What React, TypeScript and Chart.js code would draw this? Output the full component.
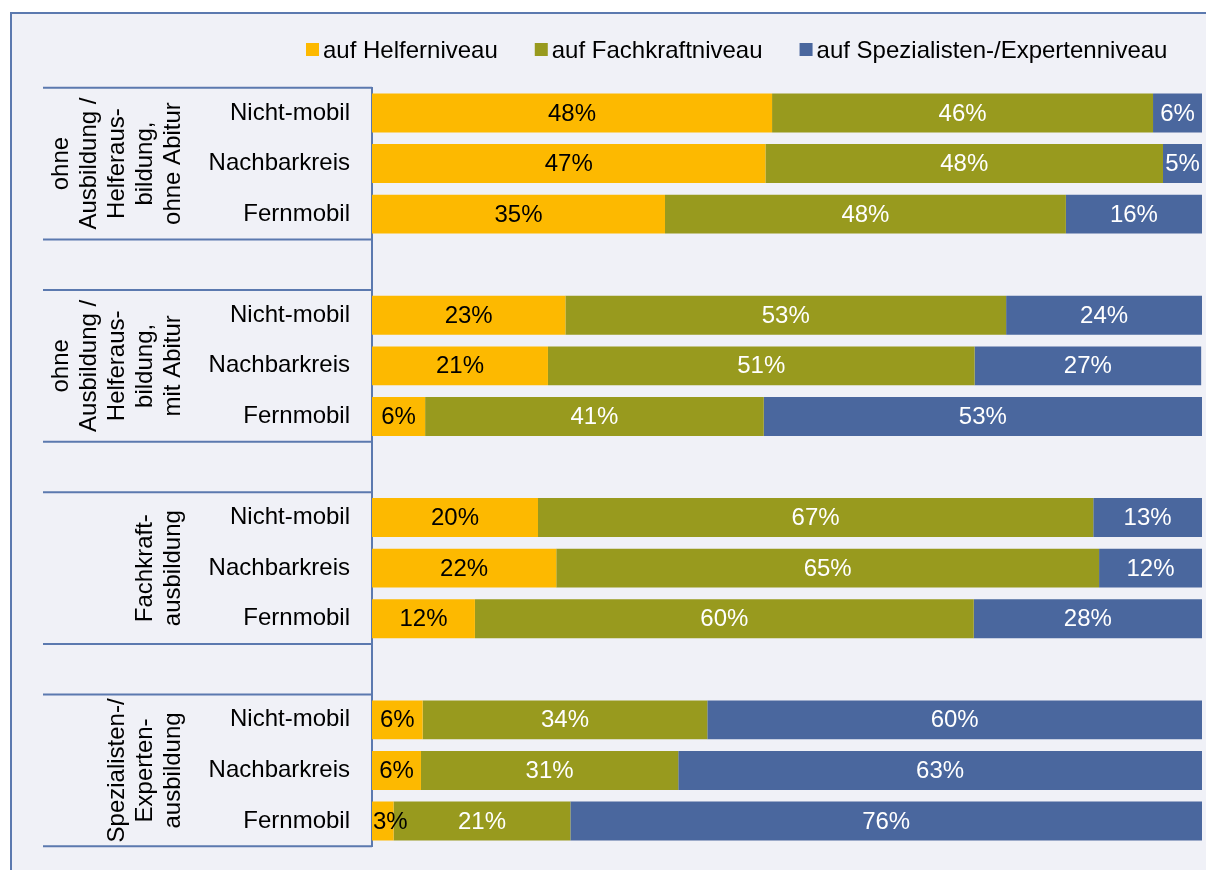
import React, { useEffect, useRef } from "react";
import { Chart, registerables } from "chart.js";

Chart.register(...registerables);

// ---- Data ----
const rowLabels = [
  "Nicht-mobil", "Nachbarkreis", "Fernmobil", "",
  "Nicht-mobil", "Nachbarkreis", "Fernmobil", "",
  "Nicht-mobil", "Nachbarkreis", "Fernmobil", "",
  "Nicht-mobil", "Nachbarkreis", "Fernmobil",
];

const seriesNames = [
  "auf Helferniveau",
  "auf Fachkraftniveau",
  "auf Spezialisten-/Expertenniveau",
];

const helfer = [48.2, 47.4, 35.3, null, 23.3, 21.2, 6.4, null, 20.0, 22.2, 12.4, null, 6.1, 5.9, 2.6];
const fachkraft = [45.9, 47.9, 48.3, null, 53.1, 51.4, 40.8, null, 66.9, 65.4, 60.1, null, 34.3, 31.0, 21.3];
const experten = [5.9, 4.7, 16.4, null, 23.6, 27.3, 52.8, null, 13.1, 12.4, 27.5, null, 59.6, 63.1, 76.1];

const groupLabels = [
  ["ohne", "Ausbildung /", "Helferaus-", "bildung,", "ohne Abitur"],
  ["ohne", "Ausbildung /", "Helferaus-", "bildung,", "mit Abitur"],
  ["Fachkraft-", "ausbildung"],
  ["Spezialisten-/", "Experten-", "ausbildung"],
];
const groupStart = [0, 4, 8, 12];
const groupEnd = [2, 6, 10, 14];

const colors = ["#FDB900", "#989A1E", "#4A679E"];
const labelColors = ["#000000", "#FFFFFF", "#FFFFFF"];

const FONT = "Liberation Sans, Arial, sans-serif";
const LINE = "#5B79AF";
const BG = "#F0F1F7";

const backgroundPlugin = {
  id: "bgBox",
  beforeDraw(chart: any) {
    const { ctx, width, height } = chart;
    ctx.save();
    ctx.fillStyle = "#FFFFFF";
    ctx.fillRect(0, 0, width, height);
    ctx.fillStyle = BG;
    ctx.fillRect(11, 13, width - 11, height - 13);
    ctx.strokeStyle = LINE;
    ctx.lineWidth = 2;
    ctx.beginPath();
    ctx.moveTo(11, height);
    ctx.lineTo(11, 13);
    ctx.lineTo(width, 13);
    ctx.stroke();
    ctx.restore();
  },
};

const legendPlugin = {
  id: "customLegend",
  afterDraw(chart: any) {
    const { ctx } = chart;
    ctx.save();
    ctx.font = `24px ${FONT}`;
    ctx.textBaseline = "middle";
    ctx.textAlign = "left";
    let x = 306;
    const cy = 50;
    chart.data.datasets.forEach((ds: any) => {
      ctx.fillStyle = ds.backgroundColor;
      ctx.fillRect(x, cy - 7, 13, 13);
      ctx.fillStyle = "#000000";
      ctx.fillText(ds.label, x + 17, cy + 1);
      x += 17 + ctx.measureText(ds.label).width + 37;
    });
    ctx.restore();
  },
};

const dataLabelPlugin = {
  id: "barValues",
  afterDatasetsDraw(chart: any) {
    const { ctx } = chart;
    ctx.save();
    ctx.font = `24px ${FONT}`;
    ctx.textBaseline = "middle";
    chart.data.datasets.forEach((ds: any, di: number) => {
      const meta = chart.getDatasetMeta(di);
      meta.data.forEach((bar: any, i: number) => {
        const v = ds.data[i];
        if (v === null || v === undefined) return;
        const text = `${Math.round(v)}%`;
        const w = ctx.measureText(text).width;
        const left = Math.min(bar.x, bar.base);
        const segW = Math.abs(bar.x - bar.base);
        ctx.fillStyle = labelColors[di];
        if (w > segW) {
          ctx.textAlign = "left";
          ctx.fillText(text, left + 1, bar.y + 1);
        } else {
          ctx.textAlign = "center";
          ctx.fillText(text, left + segW / 2, bar.y + 1);
        }
      });
    });
    ctx.restore();
  },
};

const groupPlugin = {
  id: "groupAxis",
  afterDraw(chart: any) {
    const { ctx } = chart;
    const y = chart.scales.y;
    const half = (y.getPixelForValue(1) - y.getPixelForValue(0)) / 2;
    const axisX = chart.chartArea.left;
    ctx.save();
    ctx.strokeStyle = LINE;
    ctx.lineWidth = 2;
    groupLabels.forEach((lines, g) => {
      const top = y.getPixelForValue(groupStart[g]) - half;
      const bottom = y.getPixelForValue(groupEnd[g]) + half;
      ctx.beginPath();
      ctx.moveTo(43, top);
      ctx.lineTo(axisX, top);
      ctx.moveTo(43, bottom);
      ctx.lineTo(axisX, bottom);
      ctx.stroke();
      const cy = (top + bottom) / 2;
      ctx.fillStyle = "#000000";
      ctx.font = `24px ${FONT}`;
      ctx.textAlign = "center";
      ctx.textBaseline = "middle";
      const lastX = 172;
      const spacing = 28;
      lines.forEach((ln, li) => {
        const lx = lastX - (lines.length - 1 - li) * spacing;
        ctx.save();
        ctx.translate(lx, cy);
        ctx.rotate(-Math.PI / 2);
        ctx.fillText(ln, 0, 1);
        ctx.restore();
      });
    });
    ctx.restore();
  },
};

export default function App() {
  const ref = useRef<HTMLCanvasElement | null>(null);

  useEffect(() => {
    if (!ref.current) return;
    const seriesData = [helfer, fachkraft, experten];
    const chart = new Chart(ref.current, {
      type: "bar",
      data: {
        labels: rowLabels,
        datasets: seriesNames.map((name, i) => ({
          label: name,
          data: seriesData[i],
          backgroundColor: colors[i],
          borderWidth: 0,
          barPercentage: 0.77,
          categoryPercentage: 1,
        })),
      },
      options: {
        indexAxis: "y",
        animation: false,
        responsive: false,
        maintainAspectRatio: false,
        layout: { padding: { left: 0, right: 4, top: 87.7, bottom: 23.7 } },
        plugins: {
          legend: { display: false },
          tooltip: { enabled: false },
          title: { display: false },
        },
        scales: {
          x: { stacked: true, min: 0, max: 100, display: false },
          y: {
            stacked: true,
            grid: { display: false },
            border: { display: true, color: LINE, width: 2 },
            ticks: {
              color: "#000000",
              font: { family: FONT, size: 24 },
              padding: 14,
              autoSkip: false,
            },
            afterFit: (scale: any) => {
              scale.width = 372;
              scale.paddingTop = 0;
              scale.paddingBottom = 0;
            },
          },
        },
      },
      plugins: [backgroundPlugin, dataLabelPlugin, groupPlugin, legendPlugin],
    } as any);
    return () => chart.destroy();
  }, []);

  return (
    <div style={{ position: "fixed", left: 0, top: 0, width: 1206, height: 870, background: "#fff" }}>
      <canvas ref={ref} width={1206} height={870} style={{ width: 1206, height: 870, display: "block" }} />
    </div>
  );
}
